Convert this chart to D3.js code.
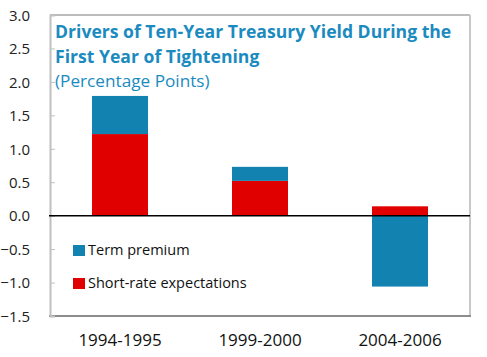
<!DOCTYPE html>
<html><head><meta charset="utf-8">
<script src="https://cdn.jsdelivr.net/npm/d3@7"></script>
<style>body{margin:0;background:#fff}svg{display:block}</style>
</head><body>
<script>
const categories = ["1994-1995", "1999-2000", "2004-2006"];
const shortRate = [1.22, 0.52, 0.14];
const termPremium = [0.57, 0.21, -1.06];
const yTicks = [3.0, 2.5, 2.0, 1.5, 1.0, 0.5, 0.0, -0.5, -1.0, -1.5];
const seriesNames = ["Term premium", "Short-rate expectations"];
const colors = {"Term premium": "#1283B0", "Short-rate expectations": "#E00000"};

const W = 487, H = 357;
const m = {left: 50, right: 17, top: 15, bottom: 41};
const svg = d3.select("body").append("svg").attr("width", W).attr("height", H);
const x = d3.scaleBand().domain(categories).range([m.left, W - m.right]).paddingInner(0.6).paddingOuter(0.3);
const y = d3.scaleLinear().domain([-1.5, 3.0]).range([H - m.bottom, m.top]);
const font = "Segoe UI, 'Open Sans', 'Noto Sans', sans-serif";

// frame
svg.append("line").attr("x1", m.left).attr("x2", W - m.right).attr("y1", m.top).attr("y2", m.top).attr("stroke", "#a6a6a6").attr("stroke-width", 1.5);
svg.append("line").attr("x1", W - m.right).attr("x2", W - m.right).attr("y1", m.top).attr("y2", H - m.bottom).attr("stroke", "#c8c8c8").attr("stroke-width", 2);
svg.append("line").attr("x1", m.left - 1).attr("x2", W - m.right + 1).attr("y1", H - m.bottom).attr("y2", H - m.bottom).attr("stroke", "#8c8c8c").attr("stroke-width", 2);

// y axis
const yAxis = d3.axisRight(y).tickValues(yTicks).tickSize(5).tickFormat(d3.format(".1f"));
const ga = svg.append("g").attr("transform", `translate(${m.left},0)`).call(yAxis);
ga.select(".domain").attr("stroke", "#c0c0c0").attr("stroke-width", 2);
ga.selectAll(".tick line").attr("stroke", "#c0c0c0").attr("stroke-width", 1);
ga.selectAll(".tick text").attr("x", -20).attr("text-anchor", "end").attr("dy", "0.35em")
  .attr("font-family", font).attr("font-size", 15).attr("fill", "#222");

// bars
const stackData = categories.map((c, i) => ({cat: c, sr: shortRate[i], tp: termPremium[i]}));
const segs = [];
stackData.forEach(d => {
  let pos = 0, neg = 0;
  [["Short-rate expectations", d.sr], ["Term premium", d.tp]].forEach(([k, v]) => {
    let y0, y1;
    if (v >= 0) { y0 = pos; y1 = pos + v; pos = y1; } else { y0 = neg; y1 = neg + v; neg = y1; }
    segs.push({cat: d.cat, key: k, y0, y1});
  });
});
svg.append("g").selectAll("rect").data(segs).join("rect")
  .attr("x", d => x(d.cat)).attr("width", x.bandwidth())
  .attr("y", d => y(Math.max(d.y0, d.y1))).attr("height", d => Math.abs(y(d.y0) - y(d.y1)))
  .attr("fill", d => colors[d.key]);

// zero line
svg.append("line").attr("x1", m.left - 1).attr("x2", W - m.right).attr("y1", y(0)).attr("y2", y(0)).attr("stroke", "#000").attr("stroke-width", 1.5);

// x labels
svg.append("g").selectAll("text").data(categories).join("text")
  .attr("x", d => x(d) + x.bandwidth() / 2).attr("y", 346).attr("text-anchor", "middle")
  .attr("font-family", font).attr("font-size", 17).attr("fill", "#111").text(d => d);

// title
const tt = svg.append("g");
tt.append("text").attr("x", 55).attr("y", 38).attr("font-family", font).attr("font-weight", "bold").attr("font-size", 17.6).attr("fill", "#1B8BBF")
  .text("Drivers of Ten-Year Treasury Yield During the");
tt.append("text").attr("x", 55).attr("y", 63).attr("font-family", font).attr("font-weight", "bold").attr("font-size", 17.6).attr("fill", "#1B8BBF")
  .text("First Year of Tightening");
tt.append("text").attr("x", 55).attr("y", 87).attr("font-family", font).attr("font-size", 17.2).attr("fill", "#1B8BBF")
  .text("(Percentage Points)");

// legend
const lg = svg.append("g").selectAll("g").data(seriesNames).join("g")
  .attr("transform", (d, i) => `translate(73,${245 + i * 33})`);
lg.append("rect").attr("width", 12).attr("height", 11).attr("fill", d => colors[d]);
lg.append("text").attr("x", 15).attr("y", 10).attr("font-family", font).attr("font-size", 14.5).attr("fill", "#111").text(d => d);
</script>
</body></html>
